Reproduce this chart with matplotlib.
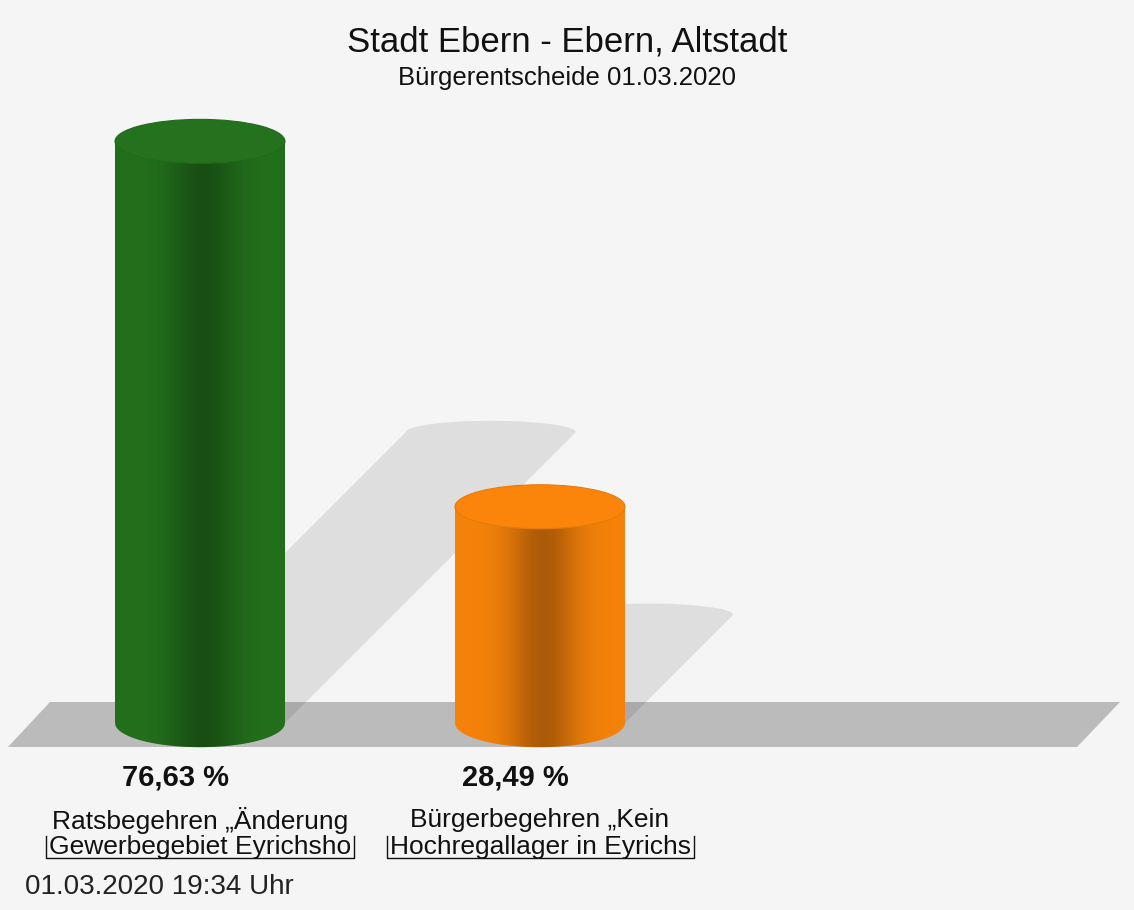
import numpy as np
import matplotlib
matplotlib.use("Agg")
import matplotlib.pyplot as plt
from matplotlib.path import Path
from matplotlib.patches import PathPatch, Polygon, Ellipse
from matplotlib.lines import Line2D

plt.rcParams['font.family'] = ['Liberation Sans', 'DejaVu Sans']

# data
values = [76.63, 28.49]
value_labels = ["76,63 %", "28,49 %"]
label_line1 = ["Ratsbegehren \u201eÄnderung", "Bürgerbegehren \u201eKein"]
label_line2 = ["Gewerbegebiet Eyrichsho", "Hochregallager in Eyrichs"]
bar_colors = ["#23701c", "#f5820a"]
title = "Stadt Ebern - Ebern, Altstadt"
subtitle = "Bürgerentscheide 01.03.2020"
footer = "01.03.2020 19:34 Uhr"

W, H = 1134, 910
PX = 7.59     # pixels per percent
UX = 340.0    # pixels per category step
BASE = 723    # pixel row of the base
BW = 0.5      # bar width in category units
EH = 2.9      # half height of the ellipses in percent units

fig = plt.figure(figsize=(W / 100, H / 100), dpi=100)
fig.patch.set_facecolor("#f5f5f5")
ax = fig.add_axes([0, 0, 1, 1])
ax.set_facecolor("#f5f5f5")
ax.axis("off")

# floor
floor = Polygon([(50 / W, 1 - 702 / H), (1120 / W, 1 - 702 / H),
                 (1077 / W, 1 - 747 / H), (8 / W, 1 - 747 / H)],
                closed=True, transform=ax.transAxes, facecolor="#bbbbbb",
                edgecolor="none", zorder=1)
ax.add_patch(floor)


def shade(rgb, k):
    return np.clip(np.array(rgb) * k, 0, 1)


for i, v in enumerate(values):
    x0, x1 = i - BW / 2, i + BW / 2
    # shadow, sheared to the upper right
    dx = v * PX * 0.5 / UX
    top = v / 2
    t = np.linspace(0, np.pi, 40)
    arc = np.column_stack([i + dx + BW / 2 * np.cos(t), top + 1.5 * np.sin(t)])
    pts = np.vstack([[x0, 0], [x1, 0], arc])
    ax.add_patch(Polygon(pts, closed=True, facecolor="black", alpha=0.09,
                         edgecolor="none", zorder=2))

    # body with horizontal gradient
    t2 = np.linspace(np.pi, 2 * np.pi, 40)
    bottom = np.column_stack([i + BW / 2 * np.cos(t2), EH * 1.1 * np.sin(t2)])
    verts = np.vstack([[x0, v], [x0, 0], bottom, [x1, 0], [x1, v], [x0, v]])
    path = Path(verts, closed=True)
    clip = PathPatch(path, facecolor="none", edgecolor="none")
    ax.add_patch(clip)
    base_rgb = np.array(matplotlib.colors.to_rgb(bar_colors[i]))
    s = np.linspace(0, 1, 200)
    k = 1 - 0.3 * np.exp(-((s - 0.52) / 0.2) ** 2)
    grad = np.array([shade(base_rgb, kk) for kk in k])[None, :, :]
    im = ax.imshow(grad, extent=(x0, x1, -EH * 1.2, v), aspect="auto",
                   interpolation="bilinear", zorder=3)
    im.set_clip_path(clip)

    # top cap
    ax.add_patch(Ellipse((i, v), BW, 2 * EH, facecolor=shade(base_rgb, 1.02),
                         edgecolor=shade(base_rgb, 0.95), linewidth=0.8, zorder=4))

    # labels
    ax.text(i - 25 / UX, (BASE - 778) / PX, value_labels[i], ha="center",
            va="center", fontsize=21, fontweight="bold", color="#111111")
    ax.text(i, (BASE - 820) / PX, label_line1[i], ha="center", va="center",
            fontsize=19, color="#111111")

ax.set_xlim(-200 / UX, (W - 200) / UX)
ax.set_ylim(-(H - BASE) / PX, BASE / PX)

line2_texts = []
for i in range(len(values)):
    line2_texts.append(ax.text(i, (BASE - 847) / PX, label_line2[i], ha="center",
                               va="center", fontsize=19, color="#111111"))

fig.text(0.5, 1 - 42 / H, title, ha="center", va="center", fontsize=25, color="#111111")
fig.text(0.5, 1 - 78 / H, subtitle, ha="center", va="center", fontsize=18.5, color="#111111")
fig.text(25 / W, 1 - 887 / H, footer, ha="left", va="center", fontsize=20, color="#222222")

# open boxes under the second label line
fig.canvas.draw()
r = fig.canvas.get_renderer()
for tx in line2_texts:
    bb = tx.get_window_extent(r)
    xa, xb = (bb.x0 - 3) / W, (bb.x1 + 3) / W
    ya, yb = (bb.y0 + 1) / H, (bb.y1 - 1) / H
    fig.add_artist(Line2D([xa, xa, xb, xb], [yb, ya, ya, yb],
                          transform=fig.transFigure, color="#111111", linewidth=1))

fig.savefig("out.png", dpi=100, facecolor=fig.get_facecolor())
